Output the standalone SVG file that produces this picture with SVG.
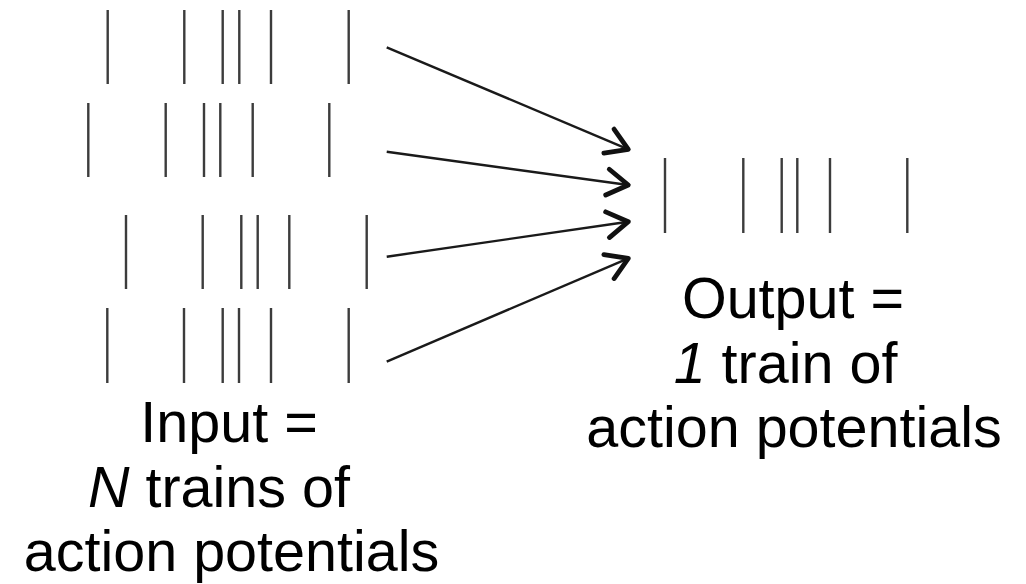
<svg xmlns="http://www.w3.org/2000/svg" width="1026" height="584" viewBox="0 0 1026 584">
<style>
.spk{stroke:#3c3c3c;stroke-width:2.4;fill:none}
.conn{stroke:#1a1a1a;stroke-width:2.4;fill:none;marker-end:url(#chev)}
.lbl{font-family:"Liberation Sans",Arial,sans-serif;font-size:57.5px;fill:#000;text-anchor:middle}
</style>
<defs>
<marker id="chev" markerUnits="userSpaceOnUse" viewBox="-26 -16 30 32" refX="0" refY="0" markerWidth="30" markerHeight="32" orient="auto" overflow="visible">
<path d="M-21,-13 L0,0 L-21,13" fill="none" stroke="#111" stroke-width="4.8" stroke-linecap="round" stroke-linejoin="round"/>
</marker>
</defs>
<rect width="1026" height="584" fill="#fff"/>
<g id="input-train-1">
<path class="spk" d="M107.7,10V84M184.3,10V84M222.7,10V84M239.3,10V84M271,10V84M348.7,10V84"/>
</g>
<g id="input-train-2">
<path class="spk" d="M88.3,103V177M165.7,103V177M204,103V177M220.3,103V177M252.7,103V177M329.3,103V177"/>
</g>
<g id="input-train-3">
<path class="spk" d="M126,215V289M202.7,215V289M241.3,215V289M257.7,215V289M289.3,215V289M366.7,215V289"/>
</g>
<g id="input-train-4">
<path class="spk" d="M107.3,308V383M184,308V383M222.7,308V383M239,308V383M271,308V383M348.7,308V383"/>
</g>
<g id="output-train">
<path class="spk" d="M665,158V233M743.3,158V233M781.7,158V233M797.3,158V233M830,158V233M907.3,158V233"/>
</g>
<g id="connectors">
<line class="conn" x1="386.7" y1="47.3" x2="628.3" y2="149.3"/>
<line class="conn" x1="386.7" y1="151.7" x2="628.3" y2="185"/>
<line class="conn" x1="386.7" y1="256.7" x2="628.3" y2="221.7"/>
<line class="conn" x1="386.7" y1="361.7" x2="628.3" y2="258.3"/>
</g>
<g id="input-label">
<text class="lbl" x="229" y="442">Input =</text>
<text class="lbl" x="219" y="507"><tspan font-style="italic">N</tspan> trains of</text>
<text class="lbl" x="231.5" y="571">action potentials</text>
</g>
<g id="output-label">
<text class="lbl" x="793" y="318">Output =</text>
<text class="lbl" x="785.5" y="383"><tspan font-style="italic">1</tspan> train of</text>
<text class="lbl" x="794" y="447">action potentials</text>
</g>
</svg>
